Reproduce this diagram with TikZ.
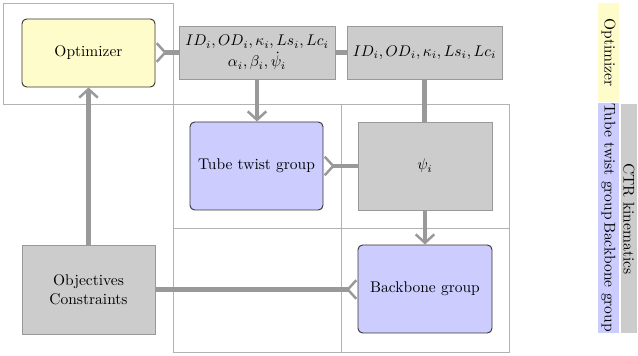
\documentclass[tikz,border=0pt]{standalone}
\usetikzlibrary{arrows.meta}
\newcommand\pxu{0.645pt}
\tikzset{
  optbox/.style={draw=black!80, fill=yellow!20, rounded corners=3pt, line width=0.6pt, inner sep=0pt, align=center},
  grpbox/.style={draw=black!80, fill=blue!20, rounded corners=3pt, line width=0.6pt, inner sep=0pt, align=center},
  databox/.style={draw=gray!80, fill=gray!40, line width=0.6pt, inner sep=0pt, align=center},
  legbox/.style={fill=#1, inner sep=0pt, rotate=-90},
  conn/.style={draw=gray!80, line width=2.6pt},
  fwd/.style={-{Straight Barb[length=5.5pt,width=12pt,line width=1.6pt]}},
  rev/.style={-{Straight Barb[reversed,length=5.5pt,width=12pt,line width=1.6pt]}},
  gridline/.style={draw=gray!60, line width=0.6pt}
}
\begin{document}
\begin{tikzpicture}[x=\pxu, y=-\pxu]
\useasboundingbox (0,0) rectangle (638,356);
% frames
\draw[gridline] (3,3) rectangle (173,104);
\draw[gridline] (173,104) rectangle (509,352);
\draw[gridline] (341,104) -- (341,352);
\draw[gridline] (173,228) -- (509,228);
% nodes
\node[optbox, minimum width=133*\pxu, minimum height=68*\pxu] (opt) at (88.5,53) {Optimizer};
\node[databox, minimum width=156*\pxu, minimum height=53*\pxu] (p1) at (257,52.5) {$ID_i, OD_i, \kappa_i, Ls_i, Lc_i$\\[1.5pt]$\alpha_i, \beta_i, \dot{\psi}_i$};
\node[databox, minimum width=155*\pxu, minimum height=53*\pxu] (p2) at (424.5,52.5) {$ID_i, OD_i, \kappa_i, Ls_i, Lc_i$};
\node[grpbox, minimum width=133*\pxu, minimum height=88*\pxu] (tube) at (256.5,166) {Tube twist group};
\node[databox, minimum width=134*\pxu, minimum height=88*\pxu] (psi) at (425,166) {$\psi_i$};
\node[grpbox, minimum width=134*\pxu, minimum height=88*\pxu] (bb) at (425,289) {Backbone group};
\node[databox, minimum width=133*\pxu, minimum height=89*\pxu] (obj) at (88.5,289.5) {Objectives\\Constraints};
% connectors
\draw[conn, rev] (p1.west) -- (p1.west -| opt.east);
\draw[conn] (p1.east) -- (p1.east -| p2.west);
\draw[conn, fwd] (p1.south) -- (p1.south |- tube.north);
\draw[conn] (p2.south) -- (p2.south |- psi.north);
\draw[conn, rev] (psi.west) -- (psi.west -| tube.east);
\draw[conn, fwd] (psi.south) -- (psi.south |- bb.north);
\draw[conn, fwd] (obj.north) -- (obj.north |- opt.south);
\draw[conn, rev] (obj.east) -- (obj.east -| bb.west);
% legend
\node[legbox=yellow!20, minimum width=99*\pxu, minimum height=21*\pxu] (legopt) at (608.5,52.5) {Optimizer};
\node[legbox=blue!20, minimum width=114*\pxu, minimum height=21*\pxu] (legtube) at (608.5,161.5) {Tube twist group};
\node[legbox=blue!20, minimum width=113*\pxu, minimum height=21*\pxu] (legbb) at (608.5,277) {Backbone group};
\node[legbox=gray!40, minimum width=229*\pxu, minimum height=16*\pxu] (legctr) at (629,219) {CTR kinematics};
\end{tikzpicture}
\end{document}
